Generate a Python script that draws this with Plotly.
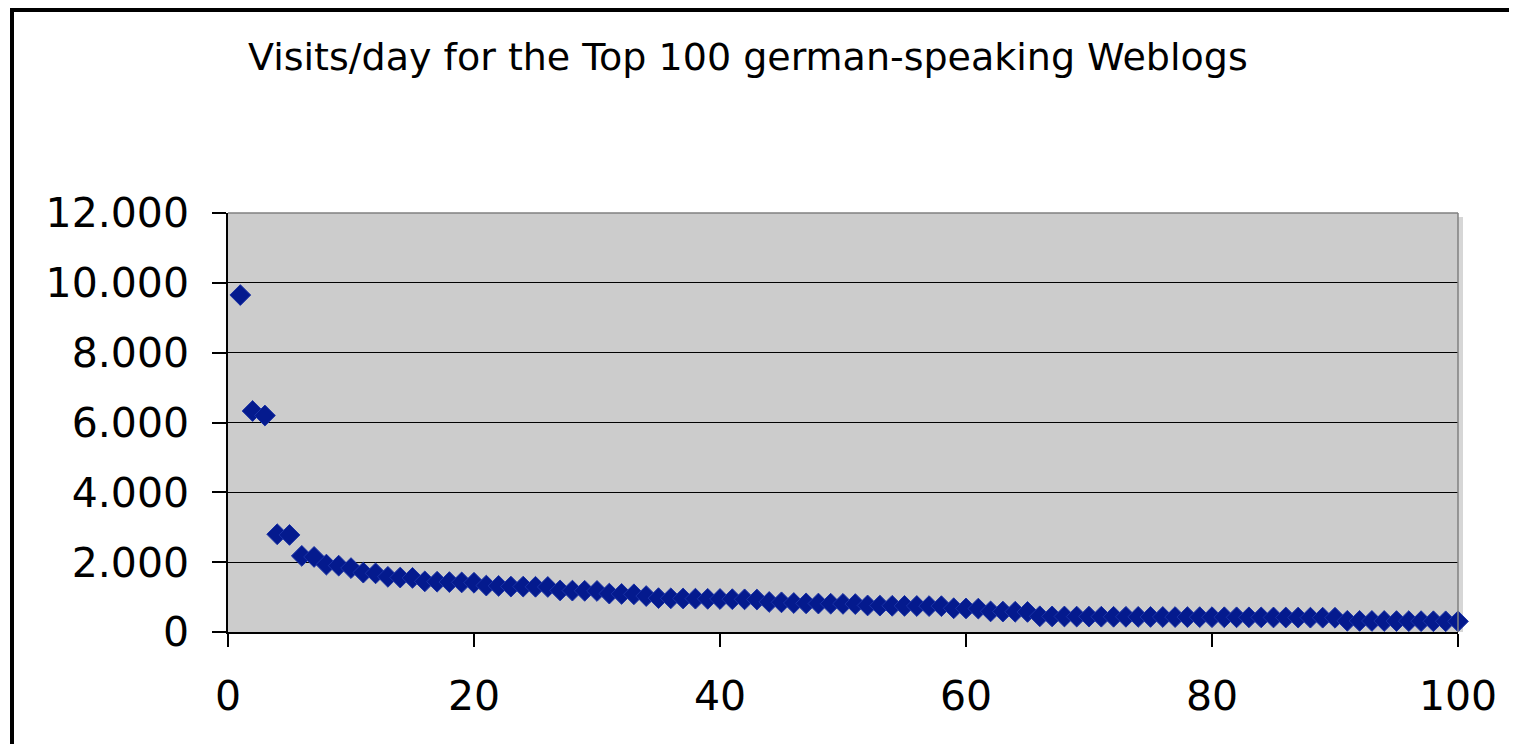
import plotly.graph_objects as go

# ---- data ----
rank = list(range(1, 101))
visits = [
    9650, 6330, 6200, 2800, 2780, 2180, 2150, 1930, 1900, 1830,
    1700, 1680, 1580, 1560, 1550, 1450, 1440, 1430, 1420, 1410,
    1330, 1320, 1300, 1300, 1295, 1290, 1190, 1185, 1180, 1175,
    1100, 1090, 1080, 1030, 970, 965, 960, 955, 950, 945,
    940, 935, 930, 860, 850, 830, 820, 815, 810, 805,
    800, 760, 755, 750, 748, 745, 742, 740, 680, 675,
    670, 590, 585, 580, 575, 450, 446, 444, 441, 440,
    438, 436, 435, 433, 431, 430, 428, 427, 425, 424,
    422, 421, 420, 418, 416, 415, 413, 411, 410, 408,
    320, 318, 316, 315, 313, 311, 310, 308, 306, 305,
]
y_ticks = [0, 2000, 4000, 6000, 8000, 10000, 12000]
x_ticks = [0, 20, 40, 60, 80, 100]
title_text = "Visits/day for the Top 100 german-speaking Weblogs"

# ---- layout geometry (pixels, compensating the page's 8px body margin) ----
OFF = 8
W, H = 1517, 744
L, R, T, B = 228 - OFF, 1458 - OFF, 213 - OFF, 632 - OFF


def px(x):
    return (x - OFF - L) / (R - L)


def py(y):
    return (B - (y - OFF)) / (B - T)


FONT = "DejaVu Sans, Verdana, sans-serif"

fig = go.Figure()
fig.add_trace(go.Scatter(
    x=rank, y=visits, mode="markers",
    marker=dict(symbol="diamond", size=16, color="#041A8E",
                line=dict(color="#1A32A6", width=1)),
    showlegend=False, cliponaxis=False,
))

shapes = [
    # shadow strip right of the plot area
    dict(type="rect", xref="paper", yref="paper", x0=px(1458), x1=px(1463),
         y0=py(632), y1=py(217), fillcolor="#D6D6D6", line=dict(width=0),
         layer="below"),
    # gray plot border top and right
    dict(type="line", xref="paper", yref="paper", x0=0, x1=1, y0=1, y1=1,
         line=dict(color="#808080", width=1.5), layer="above"),
    dict(type="line", xref="paper", yref="paper", x0=1, x1=1, y0=0, y1=1,
         line=dict(color="#808080", width=1.5), layer="above"),
    # outer chart frame (left and top)
    dict(type="line", xref="paper", yref="paper", x0=px(12), x1=px(12),
         y0=py(8), y1=py(H + 20), line=dict(color="black", width=4)),
    dict(type="line", xref="paper", yref="paper", x0=px(10), x1=px(W + 20),
         y0=py(10), y1=py(10), line=dict(color="black", width=4)),
]

fig.update_layout(
    width=W, height=H,
    margin=dict(l=L, r=W - R, t=T, b=H - B, autoexpand=False),
    paper_bgcolor="white", plot_bgcolor="#CCCCCC",
    separators=",.",
    font=dict(family=FONT, color="black"),
    shapes=shapes,
    annotations=[dict(
        text=title_text, xref="paper", yref="paper",
        x=px(748), y=py(57), xanchor="center", yanchor="middle",
        showarrow=False, font=dict(family=FONT, size=38, color="black"),
    )],
)
fig.update_xaxes(
    range=[0, 100], tickvals=x_ticks, ticktext=[str(v) for v in x_ticks],
    showgrid=False, zeroline=False, showline=True, linecolor="black",
    linewidth=1.5, ticks="outside", ticklen=13, tickcolor="black",
    tickwidth=1.5, tickfont=dict(family=FONT, size=41, color="black"),
    ticklabelstandoff=14,
)
fig.update_yaxes(
    range=[0, 12000], tickvals=y_ticks, tickformat=",d",
    showgrid=True, gridcolor="black", gridwidth=1, zeroline=False,
    showline=True, linecolor="black", linewidth=1.5, ticks="outside",
    ticklen=14, tickcolor="black", tickwidth=1.5,
    tickfont=dict(family=FONT, size=41, color="black"),
    ticklabelstandoff=15,
)

fig.write_html("out.html")
